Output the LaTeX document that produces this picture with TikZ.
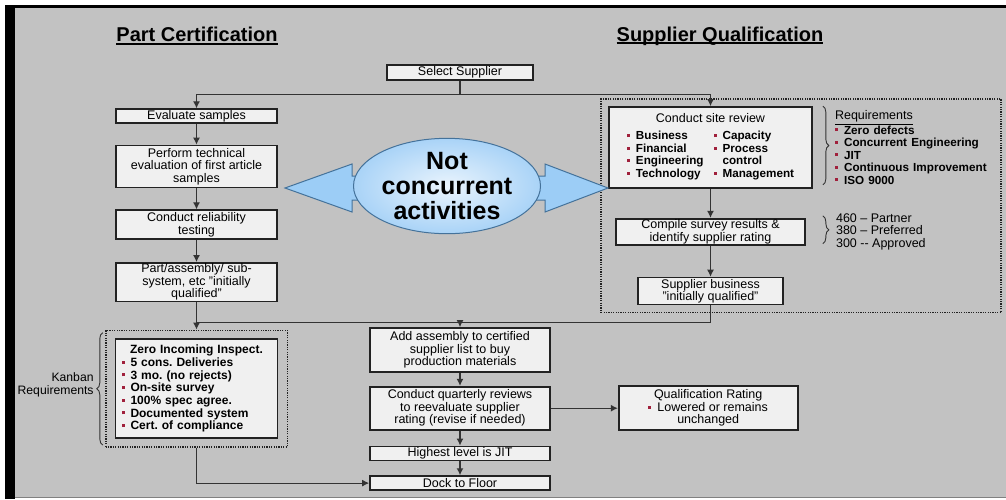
\documentclass[tikz,border=0pt]{standalone}
\usepackage{fontspec}
\setmainfont{Liberation Sans}
\usetikzlibrary{positioning, arrows.meta, shapes.geometric, fit, calc, decorations.pathreplacing}
\definecolor{slidegrey}{HTML}{C2C2C2}
\definecolor{boxfill}{HTML}{F0F0F0}
\definecolor{boxline}{HTML}{222222}
\definecolor{conline}{HTML}{333333}
\definecolor{bulred}{HTML}{A0203C}
\definecolor{ellblue}{HTML}{A9D3F7}
\definecolor{arrblue}{HTML}{9CCDF6}
\definecolor{blueline}{HTML}{44729A}
\newcommand{\boxfont}{\fontsize{12.5}{12.5}\selectfont}
\newcommand{\listfont}{\fontsize{11.7}{12.5}\selectfont\bfseries}
\newcommand{\bul}{{\color{bulred}\rule[2.8pt]{3pt}{3pt}}\hspace{6pt}}
\newcommand{\hdrline}[1]{\setbox0\hbox{#1}\rlap{\rule[-3pt]{\wd0}{1.8pt}}\box0}
\frenchspacing
\tikzset{
block/.style={
  draw=boxline,
  fill=boxfill,
  rectangle,
  line width=1.7pt,
  inner sep=1pt,
  font=\boxfont, align=center
  },
dotbox/.style={
  draw=boxline,
  line width=1.7pt,
  dash pattern=on 1.2pt off 1.2pt
  },
line/.style={-{Latex[length=7pt,width=7pt]}, line width=1.2pt, draw=conline},
brace/.style={decorate, decoration={brace, amplitude=6pt}, line width=0.9pt, draw=conline},
title/.style={font=\fontsize{20}{20}\selectfont\bfseries}
}
\begin{document}
\begin{tikzpicture}[x=1pt, y=-1pt]
\useasboundingbox (0,0) rectangle (1006,499);
% slide frame
\fill[white] (0,0) rectangle (1006,499);
\fill[black] (5,5) rectangle (1006,8);
\fill[black] (5,5) rectangle (15,499);
\fill[slidegrey] (15,8) rectangle (1006,497);
\draw[gray, line width=0.8pt] (15,497) -- (1006,497);

\node[title]	(partcert)	at (197,36)		{\hdrline{Part Certification}};
\node[title]	(supqual)	at (720,36)		{\hdrline{Supplier Qualification}};

% part certification
\node[block, minimum width=146pt, minimum height=15pt]	(select)	at (460,72.5)	{Select Supplier};
\node[block, minimum width=161pt, minimum height=13pt]	(evalsamp)	at (196.5,116)	{Evaluate samples};
\node[block, minimum width=161pt, minimum height=42pt]	(perftech)	[below=21pt of evalsamp]	{Perform technical\\evaluation of first article\\samples};
\node[block, minimum width=161pt, minimum height=29pt]	(reliab)	[below=21pt of perftech]	{Conduct reliability\\testing};
\node[block, minimum width=161pt, minimum height=36pt]	(partasm)	[below=22pt of reliab]	{Part/assembly/ sub-\\system, etc "initially\\qualified"};
\node[block, font=\fontsize{12}{12.7}\selectfont\bfseries, align=left, text width=150pt, inner xsep=6pt, minimum height=99pt]	(zeroinc)	[below=36pt of partasm]
	{\makebox[150pt]{Zero Incoming Inspect.}\\\bul 5 cons. Deliveries\\\bul 3 mo. (no rejects)\\\bul On-site survey\\\bul 100\% spec agree.\\\bul Documented system\\\bul Cert. of compliance};
\node[dotbox, fit=(zeroinc), inner xsep=9pt, inner ysep=8pt]	(kanbox)	{};
\node[font=\fontsize{12.2}{13}\selectfont, align=right, inner sep=0pt]	(kanlbl)	[left=11pt of kanbox, yshift=4pt]	{Kanban\\Requirements};

% middle column
\node[block, minimum width=180pt, minimum height=44pt]	(addasm)	at (460,350)	{Add assembly to certified\\supplier list to buy\\production materials};
\node[block, minimum width=180pt, minimum height=43pt]	(quarter)	[below=13pt of addasm]	{Conduct quarterly reviews\\to reevaluate supplier\\rating (revise if needed)};
\node[block, minimum width=180pt, minimum height=14pt]	(highest)	[below=15pt of quarter]	{Highest level is JIT};
\node[block, minimum width=180pt, minimum height=14pt]	(dock)	[below=14pt of highest]	{Dock to Floor};
\node[block, minimum width=179pt, minimum height=44pt]	(qualrate)	[right=67pt of quarter]	{Qualification Rating\\\bul Lowered or remains\\unchanged};

% supplier qualification
\node[block, minimum width=203pt, minimum height=81pt]	(siterev)	at (710.5,147.5)
	{Conduct site review\\[7pt]{\listfont\begin{tabular}{@{}l@{\hspace{10pt}}l@{}}\bul Business & \bul Capacity\\\bul Financial & \bul Process\\\bul Engineering & \hspace{9pt}control\\\bul Technology & \bul Management\end{tabular}}};
\node[block, minimum width=189pt, minimum height=25pt]	(compile)	[below=29pt of siterev]	{Compile survey results \&\\identify supplier rating};
\node[block, minimum width=145pt, minimum height=27pt]	(supbus)	[below=31pt of compile]	{Supplier business\\"initially qualified"};
\node[inner sep=0pt, text width=159pt, align=left, font=\boxfont]	(reqlist)	[right=22pt of siterev]
	{\underline{Requirements}\\{\listfont\bul Zero defects}\\{\listfont\bul Concurrent Engineering}\\{\listfont\bul JIT}\\{\listfont\bul Continuous Improvement}\\{\listfont\bul ISO 9000}};
\node[inner sep=0pt, align=left, font=\boxfont]	(ratings)	[right=30pt of compile]	{460 -- Partner\\380 -- Preferred\\300 -{}- Approved};
\node[dotbox, fit=(siterev) (supbus) (reqlist), inner xsep=7pt, inner ysep=7pt]	(suppbox)	{};

\draw[brace] ($(siterev.north east)+(10,0)$) -- ($(siterev.south east)+(10,-4)$);
\draw[brace] ($(compile.north east)+(17,-2)$) -- ($(compile.south east)+(17,-2)$);
\draw[brace] ($(kanbox.south west)+(-2,-3)$) -- ($(kanbox.north west)+(-2,3)$);

% not concurrent
\filldraw[fill=arrblue, draw=blueline, line width=1pt] (285,188) -- (352,164) -- (352,176) -- (545,176) -- (545,164) -- (608,188) -- (545,212) -- (545,200) -- (352,200) -- (352,212) -- cycle;
\node[ellipse, draw=blueline, line width=1pt, inner color=white!75!ellblue, outer color=ellblue, minimum width=187pt, minimum height=85pt, inner sep=0pt, font=\fontsize{25}{25}\selectfont\bfseries, align=center]	(notconc)	at (447,186)	{Not\\concurrent\\activities};

\coordinate[below=14pt of select] (fork);
\coordinate[below=20pt of partasm] (merge);

\draw[line] (select.south) -- (fork) -| (evalsamp.north);
\draw[line] (fork) -| (siterev.north);
\draw[line] (evalsamp.south) -- (perftech.north);
\draw[line] (perftech.south) -- (reliab.north);
\draw[line] (reliab.south) -- (partasm.north);
\draw[line] (partasm.south) -- (partasm.south |- kanbox.north);
\draw[line] (merge) -| (addasm.north);
\draw[conline, line width=1.2pt] (supbus.south) |- (merge);
\draw[line] (kanbox.south) |- (dock.west);
\draw[line] (addasm.south) -- (quarter.north);
\draw[line] (quarter.south) -- (highest.north);
\draw[line] (highest.south) -- (dock.north);
\draw[line] (quarter.east) -- (qualrate.west);
\draw[line] (siterev.south) -- (compile.north);
\draw[line] (compile.south) -- (supbus.north);
\end{tikzpicture}
\end{document}
